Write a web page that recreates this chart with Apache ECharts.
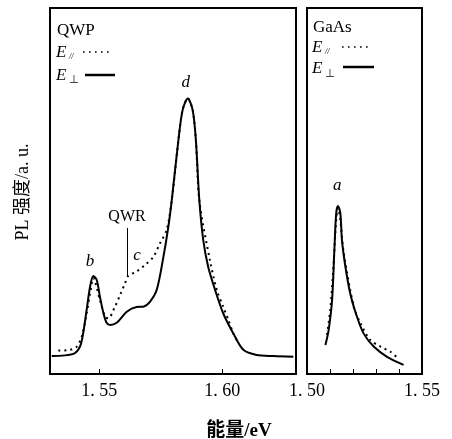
<!DOCTYPE html>
<html>
<head>
<meta charset="utf-8">
<script src="https://cdn.jsdelivr.net/npm/echarts@6/dist/echarts.min.js"></script>
<style>
  html, body { margin: 0; padding: 0; background: #fff; }
  #chart { width: 452px; height: 439px; }
</style>
</head>
<body>
<div id="chart"></div>
<script>
// QWP panel, E_perp (solid) -- energy in eV, intensity in a.u. (0-100)
const qwpPerpE = [1.5307, 1.5395, 1.5422, 1.5435, 1.5449, 1.5463, 1.5476, 1.5490, 1.5503, 1.5517, 1.5530, 1.5544,
  1.5571, 1.5612, 1.5652, 1.5679, 1.5707, 1.5734, 1.5761, 1.5781, 1.5795, 1.5822, 1.5839, 1.5860, 1.5880,
  1.5893, 1.5907, 1.5923, 1.5943, 1.5971, 1.6004, 1.6045, 1.6086, 1.6140, 1.6208, 1.6289]
const qwpPerpI = [4.9, 5.5, 7.5, 11.2, 17.5, 23.9, 26.8, 25.7, 21.1, 16.7, 14.0, 13.4,
  14.0, 17.0, 18.3, 18.4, 19.8, 23.0, 32.0, 40.2, 47.5, 63.9, 72.1, 75.3, 72.1,
  63.9, 47.5, 36.6, 29.3, 23.0, 16.6, 11.1, 6.6, 5.2, 4.9, 4.7]

// QWP panel, E_par (dotted)
const qwpParE = [1.5334, 1.5381, 1.5409, 1.5429, 1.5449, 1.5463, 1.5476, 1.5503, 1.5524, 1.5537, 1.5564, 1.5585,
  1.5605, 1.5618, 1.5652, 1.5686, 1.5720, 1.5747, 1.5774, 1.5795, 1.5822, 1.5839, 1.5860, 1.5880, 1.5893,
  1.5907, 1.5950, 1.5978, 1.6004, 1.6025, 1.6045, 1.6059]
const qwpParI = [6.4, 6.6, 7.5, 10.2, 16.6, 22.0, 26.2, 20.2, 15.7, 15.2, 18.4, 21.6,
  24.8, 26.8, 28.0, 29.8, 32.0, 35.7, 39.3, 47.5, 63.9, 72.1, 75.3, 72.1, 63.9,
  47.5, 31.1, 23.0, 18.4, 14.8, 11.1, 9.3]

// GaAs panel, E_perp (solid)
const gaasPerpE = [1.5080, 1.5094, 1.5109, 1.5119, 1.5127, 1.5135, 1.5145, 1.5152, 1.5167, 1.5188, 1.5217,
  1.5246, 1.5290, 1.5348, 1.5420]
const gaasPerpI = [7.9, 12.0, 20.2, 33.9, 43.9, 45.9, 43.9, 36.6, 29.3, 22.0, 15.7, 11.1, 7.5, 4.7, 2.5]

// GaAs panel, E_par (dotted)
const gaasParE = [1.5087, 1.5101, 1.5114, 1.5127, 1.5135, 1.5145, 1.5158, 1.5203, 1.5232, 1.5275, 1.5319,
  1.5362, 1.5388]
const gaasParI = [10.7, 17.5, 28.4, 42.1, 45.4, 42.1, 33.9, 18.4, 13.9, 9.3, 7.5, 6.1, 4.7]

// peak labels [energy, intensity, text]
const qwpLabels = [[1.5463, 30.6, 'b'], [1.5654, 32.5, 'c'], [1.5852, 79.5, 'd']]
const gaasLabels = [[1.5132, 51.6, 'a']]
const qwrMark = [1.5612, 39.9, 26.8]

const qwpTicks = [1.55, 1.60]
const gaasTicks = [1.51, 1.52, 1.53, 1.54]
const gaasTickLabels = [1.50, 1.55]

const zip = (xs, ys) => xs.map((x, i) => [x, ys[i]])
const serif = '"Liberation Serif", "Noto Sans CJK SC", serif'
const fmt = v => v.toFixed(2).replace('.', '. ')

const chart = echarts.init(document.getElementById('chart'))

const gridStyle = { show: true, borderColor: '#000', borderWidth: 2, backgroundColor: 'transparent' }

function xAxisFor(idx, min, max, ticks, labels) {
  return {
    type: 'value', gridIndex: idx, min: min, max: max,
    axisLine: { show: false },
    splitLine: { show: false },
    axisTick: { show: true, inside: true, length: 5, customValues: ticks, lineStyle: { color: '#000', width: 1 } },
    axisLabel: { customValues: labels, formatter: fmt, color: '#000', fontFamily: serif, fontSize: 18, margin: 8 }
  }
}

function yAxisFor(idx) {
  return { type: 'value', gridIndex: idx, min: 0, max: 100, show: false }
}

function labelSeries(data, xi, italic, size) {
  return {
    type: 'scatter', xAxisIndex: xi, yAxisIndex: xi, symbolSize: 0, silent: true,
    itemStyle: { opacity: 1 },
    data: data.map(d => ({ value: [d[0], d[1]], name: d[2] })),
    label: { show: true, position: 'inside', formatter: p => p.name, color: '#000', opacity: 1,
      fontFamily: serif, fontStyle: italic ? 'italic' : 'normal', fontSize: size }
  }
}

chart.setOption({
  animation: false,
  grid: [
    Object.assign({ left: 50, top: 8, width: 246, height: 366 }, gridStyle),
    Object.assign({ left: 307, top: 8, width: 115, height: 366 }, gridStyle)
  ],
  xAxis: [
    xAxisFor(0, 1.53, 1.63, qwpTicks, qwpTicks),
    xAxisFor(1, 1.50, 1.55, gaasTicks, gaasTickLabels)
  ],
  yAxis: [yAxisFor(0), yAxisFor(1)],
  series: [
    {
      name: 'QWP E_par', type: 'line', xAxisIndex: 0, yAxisIndex: 0, showSymbol: false, smooth: 0.3,
      data: zip(qwpParE, qwpParI),
      lineStyle: { color: '#000', width: 2, type: [2, 4] }
    },
    {
      name: 'QWP E_perp', type: 'line', xAxisIndex: 0, yAxisIndex: 0, showSymbol: false, smooth: 0.3,
      data: zip(qwpPerpE, qwpPerpI),
      lineStyle: { color: '#000', width: 2 },
      markLine: {
        silent: true, symbol: 'none', label: { show: false },
        lineStyle: { color: '#000', width: 1, type: 'solid', opacity: 1 },
        data: [[{ coord: [qwrMark[0], qwrMark[1]] }, { coord: [qwrMark[0], qwrMark[2]] }]]
      }
    },
    {
      name: 'GaAs E_par', type: 'line', xAxisIndex: 1, yAxisIndex: 1, showSymbol: false, smooth: 0.3,
      data: zip(gaasParE, gaasParI),
      lineStyle: { color: '#000', width: 2, type: [2, 4] }
    },
    {
      name: 'GaAs E_perp', type: 'line', xAxisIndex: 1, yAxisIndex: 1, showSymbol: false, smooth: 0.3,
      data: zip(gaasPerpE, gaasPerpI),
      lineStyle: { color: '#000', width: 2 }
    },
    labelSeries(qwpLabels, 0, true, 17),
    labelSeries(gaasLabels, 1, true, 17),
    labelSeries([[1.5613, 42.9, 'QWR']], 0, false, 16)
  ],
  graphic: [
    // legend, QWP panel
    { type: 'text', left: 57, top: 22, style: { text: 'QWP', font: '17px ' + serif, fill: '#000' } },
    { type: 'text', left: 56, top: 44, style: { text: 'E', font: 'italic 17px ' + serif, fill: '#000' } },
    { type: 'text', left: 69, top: 53, style: { text: '//', font: 'italic 8px ' + serif, fill: '#000' } },
    { type: 'line', shape: { x1: 83, y1: 52, x2: 112, y2: 52 }, style: { stroke: '#000', lineWidth: 1.6, lineDash: [1.6, 4.4] } },
    { type: 'text', left: 56, top: 67, style: { text: 'E', font: 'italic 17px ' + serif, fill: '#000' } },
    { type: 'text', left: 69, top: 75, style: { text: '⊥', font: '10px ' + serif, fill: '#000' } },
    { type: 'line', shape: { x1: 85, y1: 75, x2: 115, y2: 75 }, style: { stroke: '#000', lineWidth: 2.5 } },
    // legend, GaAs panel
    { type: 'text', left: 313, top: 19, style: { text: 'GaAs', font: '17px ' + serif, fill: '#000' } },
    { type: 'text', left: 312, top: 39, style: { text: 'E', font: 'italic 17px ' + serif, fill: '#000' } },
    { type: 'text', left: 325, top: 48, style: { text: '//', font: 'italic 8px ' + serif, fill: '#000' } },
    { type: 'line', shape: { x1: 342, y1: 47, x2: 372, y2: 47 }, style: { stroke: '#000', lineWidth: 1.6, lineDash: [1.6, 4.4] } },
    { type: 'text', left: 312, top: 60, style: { text: 'E', font: 'italic 17px ' + serif, fill: '#000' } },
    { type: 'text', left: 325, top: 69, style: { text: '⊥', font: '10px ' + serif, fill: '#000' } },
    { type: 'line', shape: { x1: 343, y1: 67, x2: 374, y2: 67 }, style: { stroke: '#000', lineWidth: 2.5 } },
    // axis titles
    { type: 'text', x: 239, y: 431, style: { text: '能量/eV', font: 'bold 19px ' + serif, fill: '#000', textAlign: 'center', textVerticalAlign: 'middle' } },
    { type: 'text', x: 23, y: 192, rotation: Math.PI / 2, style: { text: 'PL 强度/a. u.', font: '18px ' + serif, fill: '#000', textAlign: 'center', textVerticalAlign: 'middle' } }
  ]
})
</script>
</body>
</html>
